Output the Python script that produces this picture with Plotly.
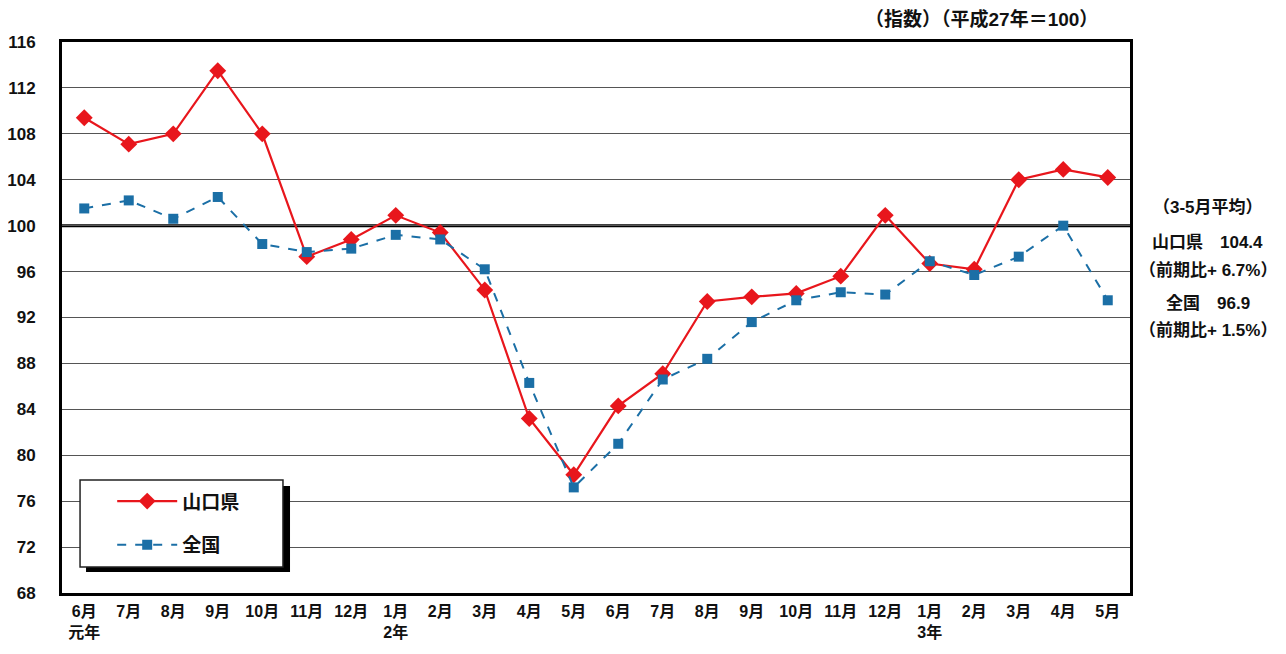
import plotly.graph_objects as go

# 月ラベル（元年6月〜3年5月）
months = ["6月", "7月", "8月", "9月", "10月", "11月", "12月", "1月", "2月", "3月", "4月", "5月",
          "6月", "7月", "8月", "9月", "10月", "11月", "12月", "1月", "2月", "3月", "4月", "5月"]
year_marks = {0: "元年", 7: "2年", 19: "3年"}

yamaguchi = [109.4, 107.1, 108.0, 113.5, 108.0, 97.3, 98.8, 100.9, 99.4, 94.4, 83.2, 78.3,
             84.3, 87.1, 93.4, 93.8, 94.1, 95.6, 100.9, 96.7, 96.2, 104.0, 104.9, 104.2]
zenkoku = [101.5, 102.2, 100.6, 102.5, 98.4, 97.7, 98.0, 99.2, 98.8, 96.2, 86.3, 77.2,
           81.0, 86.6, 88.4, 91.6, 93.5, 94.2, 94.0, 96.9, 95.7, 97.3, 100.0, 93.5]

y_ticks = list(range(68, 117, 4))

side_notes = ["（3-5月平均）", "山口県　104.4", "（前期比+ 6.7%）", "全国　96.9", "（前期比+ 1.5%）"]
side_y = [0.699, 0.637, 0.586, 0.526, 0.477]

FONT = "Liberation Sans, Noto Sans CJK JP, Arial"
RED = "#e8161c"
BLUE = "#1b6fa6"

x = list(range(len(months)))
tick_text = [m + ("<br>" + year_marks[i] if i in year_marks else "<br> ") for i, m in enumerate(months)]

fig = go.Figure()
fig.add_trace(go.Scatter(
    x=x, y=yamaguchi, name="<b>山口県</b>", mode="lines+markers", legendgroup="a",
    line=dict(color=RED, width=2.2),
    marker=dict(symbol="diamond", size=13, color=RED),
))
fig.add_trace(go.Scatter(
    x=x, y=zenkoku, name="<b>全国</b>", mode="lines+markers", legendgroup="b",
    line=dict(color=BLUE, width=2, dash="dash"),
    marker=dict(symbol="square", size=10, color=BLUE),
))

# 100 の基準線
fig.add_shape(type="line", xref="paper", yref="y", x0=0, x1=1, y0=100, y1=100,
              line=dict(color="black", width=3), layer="below")

# 凡例の枠と影
fig.add_shape(type="rect", xref="paper", yref="paper",
              x0=0.0225, x1=0.2135, y0=0.038, y1=0.194,
              fillcolor="black", line=dict(width=0), layer="above")
fig.add_shape(type="rect", xref="paper", yref="paper",
              x0=0.0169, x1=0.2069, y0=0.0472, y1=0.2051,
              fillcolor="white", line=dict(color="#222", width=1.5), layer="above")

for t, yy in zip(side_notes, side_y):
    fig.add_annotation(text="<b>" + t + "</b>", xref="paper", yref="paper",
                       x=1.073, y=yy, showarrow=False, yanchor="middle",
                       font=dict(size=17, family=FONT, color="#111"), xanchor="center")

fig.add_annotation(text="<b>（指数）（平成27年＝100）</b>", xref="paper", yref="paper",
                   x=0.9715, y=1.041, showarrow=False, xanchor="right", yanchor="middle",
                   font=dict(size=19, family=FONT, color="#111"))

fig.update_layout(
    width=1286, height=654,
    margin=dict(l=54, r=164, t=34, b=69),
    paper_bgcolor="white", plot_bgcolor="white",
    font=dict(family=FONT, size=15, color="#111"),
    showlegend=True,
    legend=dict(
        x=0.047, y=0.201, xanchor="left", yanchor="top",
        bgcolor="rgba(0,0,0,0)", borderwidth=0,
        font=dict(size=19, family=FONT, color="#111"),
        itemwidth=60, tracegroupgap=16,
    ),
    xaxis=dict(
        range=[-0.5, 23.5], tickmode="array", tickvals=x, ticktext=["<b>" + t + "</b>" for t in tick_text],
        showgrid=False, ticks="", showline=True, linecolor="black", linewidth=3, mirror=True,
        tickfont=dict(size=16, family=FONT), zeroline=False, automargin=False,
        ticklabelstandoff=2,
    ),
    yaxis=dict(
        range=[68, 116], tickmode="array", tickvals=y_ticks,
        ticktext=["<b>%d</b>" % v for v in y_ticks],
        showgrid=True, gridcolor="#555", gridwidth=1,
        showline=True, linecolor="black", linewidth=3, mirror=True,
        ticks="", ticklabelstandoff=20, tickfont=dict(size=17, family=FONT), zeroline=False,
        automargin=False,
    ),
)

fig.write_html("out.html")
